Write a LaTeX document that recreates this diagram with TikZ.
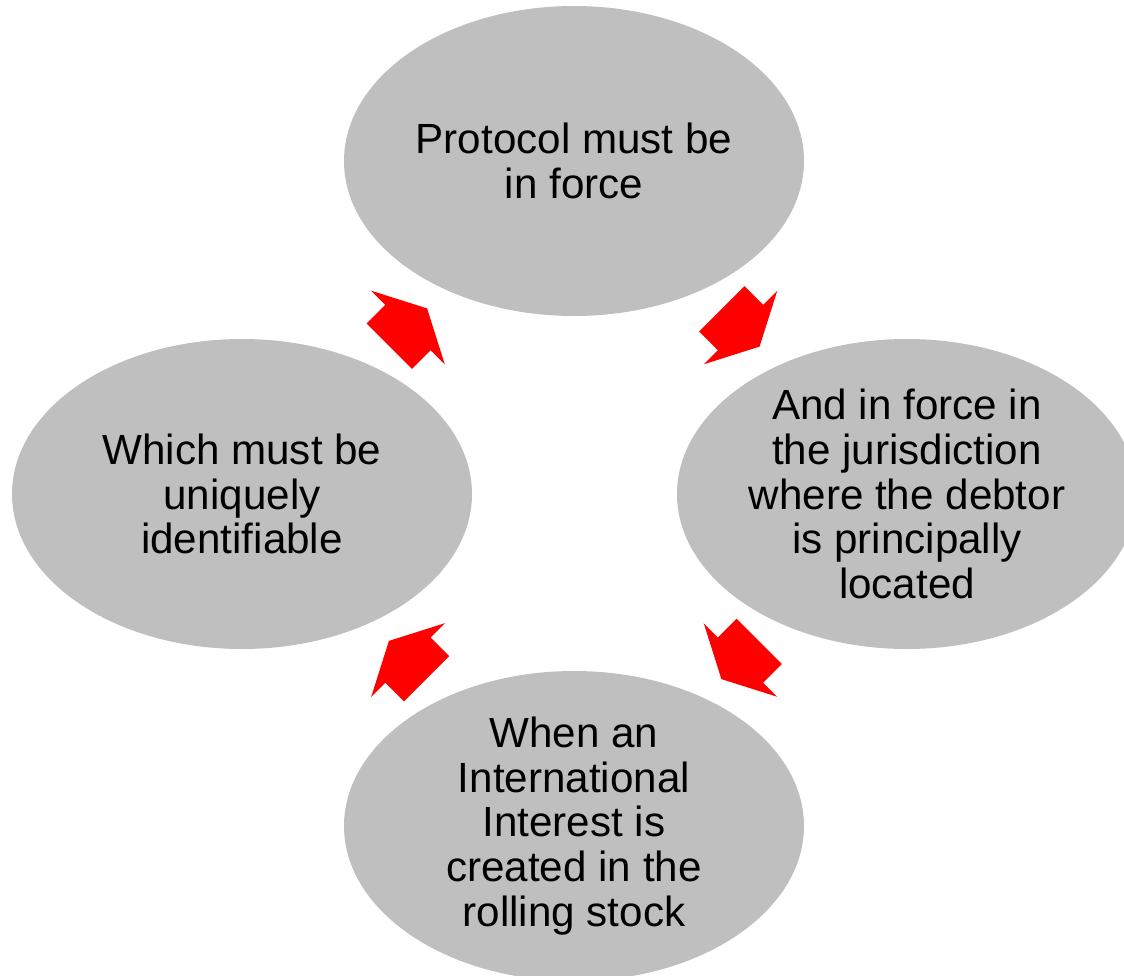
\documentclass[tikz,border=0pt]{standalone}
\usepackage{fontspec}
\setmainfont{Liberation Sans}
\usetikzlibrary{shapes.geometric, calc}
\definecolor{mygray}{RGB}{191,191,191}
\definecolor{myred}{RGB}{255,0,0}
\tikzset{
  stagenode/.style={ellipse, fill=mygray, draw=none,
    minimum width=9.2cm, minimum height=6.2cm, inner sep=0pt,
    align=center, font=\fontsize{24}{25.5}\selectfont},
  blockarrow/.style={fill=myred, draw=none}
}
\begin{document}
\begin{tikzpicture}
  \useasboundingbox (-11.48,-9.62) rectangle (11.0,9.88);

  % Stages of the cycle
  \node[stagenode] (top) at (0,6.66) {Protocol must be\\in force};
  \node[stagenode] (right) at (6.66,0) {And in force in\\the jurisdiction\\where the debtor\\is principally\\located};
  \node[stagenode] (bottom) at (0,-6.64) {When an\\International\\Interest is\\created in the\\rolling stock};
  \node[stagenode] (left) at (-6.64,0) {Which must be\\uniquely\\identifiable};

  % Block arrows between the stages
  \foreach \from/\to/\ang in {left/top/45, top/right/-45, right/bottom/-135, bottom/left/135} {
    \path[blockarrow, shift={($(\from.center)!0.5!(\to.center)$)}, rotate=\ang]
      (-0.53,-0.64) -- (0,-0.64) -- (0,-1.04) -- (0.54,0)
      -- (0,1.04) -- (0,0.64) -- (-0.53,0.64) -- cycle;
  }
\end{tikzpicture}
\end{document}
